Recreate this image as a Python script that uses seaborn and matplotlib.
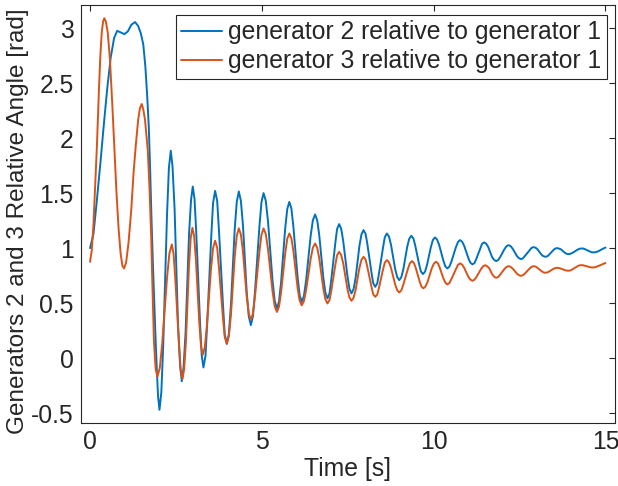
import matplotlib
matplotlib.use("Agg")
import matplotlib.pyplot as plt
import seaborn as sns

# ===== DATA =====
# generator 2 relative to generator 1
t_gen2 = [0.0, 0.1, 0.2, 0.3, 0.4, 0.5, 0.6, 0.7, 0.79, 0.9, 1.0, 1.1, 1.2, 1.31,
          1.4, 1.48, 1.55, 1.61, 1.66, 1.71, 1.75, 1.79, 1.83, 1.87, 1.91, 1.95, 1.98,
          2.02, 2.075, 2.13, 2.24, 2.295,
          2.35, 2.40, 2.46, 2.56, 2.62,
          2.67, 2.72, 2.78, 2.88, 2.94,
          2.99, 3.04, 3.09, 3.20, 3.25,
          3.30, 3.36, 3.41, 3.53, 3.58,
          3.64, 3.70, 3.75, 3.87, 3.92,
          3.98, 4.04, 4.10, 4.21, 4.27,
          4.33, 4.39, 4.45, 4.56, 4.62,
          4.68, 4.74, 4.80, 4.93, 4.99,
          5.05, 5.115, 5.18, 5.31, 5.375,
          5.44, 5.50, 5.56, 5.68, 5.74,
          5.80, 5.86, 5.92, 6.04, 6.10,
          6.16, 6.225, 6.29, 6.42, 6.485,
          6.55, 6.61, 6.67, 6.79, 6.85,
          6.91, 6.97, 7.02, 7.14, 7.19,
          7.25, 7.31, 7.37, 7.49, 7.55,
          7.61, 7.67, 7.73, 7.84, 7.90,
          7.96, 8.02, 8.07, 8.19, 8.24,
          8.30, 8.36, 8.41, 8.53, 8.58,
          8.64, 8.70, 8.76, 8.88, 8.94,
          9.00, 9.06, 9.12, 9.23, 9.29,
          9.35, 9.41, 9.46, 9.58, 9.63,
          9.69, 9.75, 9.81, 9.92, 9.98,
          10.04, 10.10, 10.16, 10.28, 10.34,
          10.40, 10.46, 10.52, 10.65, 10.71,
          10.77, 10.83, 10.89, 11.01, 11.07,
          11.13, 11.19, 11.24, 11.36, 11.41,
          11.47, 11.53, 11.59, 11.70, 11.76,
          11.82, 11.88, 11.94, 12.06, 12.12,
          12.18, 12.24, 12.30, 12.42, 12.48,
          12.54, 12.60, 12.66, 12.79, 12.85,
          12.91, 12.97, 13.02, 13.14, 13.19,
          13.25, 13.31, 13.36, 13.48, 13.53,
          13.59, 13.645, 13.70, 13.81, 13.865,
          13.92, 13.985, 14.05, 14.18, 14.245,
          14.31, 14.37, 14.42, 14.54, 14.59,
          14.65, 14.72, 14.80, 14.90, 15.0]
y_gen2 = [1.00, 1.13, 1.44, 1.77, 2.12, 2.45, 2.73, 2.91, 2.975, 2.96, 2.945, 2.97, 3.03, 3.055,
          3.02, 2.95, 2.85, 2.65, 2.4, 2.1, 1.7, 1.25, 0.85, 0.5, 0.15, -0.15, -0.35,
          -0.47, -0.31, 0.12, 1.30, 1.73,
          1.885, 1.745, 1.36, 0.31, -0.07,
          -0.21, -0.09, 0.23, 1.12, 1.44,
          1.56, 1.45, 1.15, 0.33, 0.025,
          -0.085, 0.02, 0.32, 1.12, 1.41,
          1.52, 1.43, 1.17, 0.48, 0.22,
          0.13, 0.22, 0.48, 1.17, 1.42,
          1.515, 1.43, 1.21, 0.60, 0.38,
          0.30, 0.38, 0.60, 1.20, 1.42,
          1.50, 1.43, 1.24, 0.71, 0.52,
          0.45, 0.515, 0.69, 1.18, 1.355,
          1.42, 1.36, 1.19, 0.74, 0.573,
          0.512, 0.565, 0.71, 1.11, 1.253,
          1.306, 1.255, 1.12, 0.73, 0.594,
          0.543, 0.588, 0.71, 1.05, 1.173,
          1.218, 1.176, 1.06, 0.75, 0.63,
          0.588, 0.627, 0.73, 1.02, 1.125,
          1.164, 1.129, 1.04, 0.78, 0.683,
          0.648, 0.68, 0.77, 1.01, 1.10,
          1.133, 1.105, 1.03, 0.81, 0.737,
          0.709, 0.736, 0.81, 1.01, 1.085,
          1.112, 1.089, 1.03, 0.85, 0.787,
          0.764, 0.786, 0.85, 1.01, 1.075,
          1.097, 1.078, 1.03, 0.89, 0.834,
          0.815, 0.832, 0.88, 1.01, 1.056,
          1.073, 1.058, 1.02, 0.91, 0.867,
          0.852, 0.865, 0.90, 1.00, 1.039,
          1.052, 1.041, 1.01, 0.92, 0.893,
          0.882, 0.892, 0.92, 0.99, 1.017,
          1.027, 1.018, 0.995, 0.93, 0.909,
          0.90, 0.907, 0.93, 0.98, 1.002,
          1.009, 1.003, 0.99, 0.94, 0.927,
          0.921, 0.926, 0.94, 0.98, 0.995,
          1.00, 0.996, 0.99, 0.96, 0.949,
          0.945, 0.949, 0.958, 0.984, 0.994,
          0.997, 0.995, 0.988, 0.97, 0.963,
          0.961, 0.963, 0.972, 0.99, 1.005]

# generator 3 relative to generator 1
t_gen3 = [0.0, 0.05, 0.1, 0.15, 0.2, 0.26, 0.3, 0.34, 0.38, 0.415, 0.46, 0.515, 0.58,
          0.65, 0.71, 0.77, 0.83, 0.89, 0.94, 0.99, 1.05, 1.12, 1.2, 1.27, 1.33, 1.40,
          1.45, 1.505, 1.55, 1.6, 1.68, 1.73, 1.78, 1.82, 1.86, 1.91,
          1.96, 2.03, 2.10, 2.24, 2.31,
          2.38, 2.43, 2.48, 2.59, 2.64,
          2.69, 2.74, 2.79, 2.88, 2.93,
          2.98, 3.03, 3.08, 3.18, 3.23,
          3.28, 3.34, 3.40, 3.52, 3.58,
          3.64, 3.70, 3.75, 3.87, 3.92,
          3.98, 4.04, 4.10, 4.21, 4.27,
          4.33, 4.39, 4.45, 4.56, 4.62,
          4.68, 4.74, 4.80, 4.93, 4.99,
          5.05, 5.115, 5.18, 5.31, 5.375,
          5.44, 5.50, 5.56, 5.68, 5.74,
          5.80, 5.86, 5.92, 6.04, 6.10,
          6.16, 6.225, 6.29, 6.42, 6.485,
          6.55, 6.61, 6.67, 6.79, 6.85,
          6.91, 6.97, 7.02, 7.14, 7.19,
          7.25, 7.31, 7.37, 7.49, 7.55,
          7.61, 7.67, 7.73, 7.84, 7.90,
          7.96, 8.02, 8.07, 8.19, 8.24,
          8.30, 8.36, 8.41, 8.53, 8.58,
          8.64, 8.70, 8.76, 8.88, 8.94,
          9.00, 9.06, 9.12, 9.25, 9.31,
          9.37, 9.425, 9.48, 9.59, 9.645,
          9.70, 9.76, 9.82, 9.95, 10.01,
          10.07, 10.125, 10.18, 10.29, 10.345,
          10.40, 10.46, 10.52, 10.65, 10.71,
          10.77, 10.83, 10.89, 11.01, 11.07,
          11.13, 11.19, 11.25, 11.38, 11.44,
          11.50, 11.55, 11.61, 11.71, 11.77,
          11.82, 11.88, 11.94, 12.06, 12.12,
          12.18, 12.24, 12.30, 12.42, 12.48,
          12.54, 12.60, 12.66, 12.79, 12.85,
          12.91, 12.97, 13.02, 13.14, 13.19,
          13.25, 13.31, 13.36, 13.48, 13.53,
          13.59, 13.645, 13.70, 13.81, 13.865,
          13.92, 13.98, 14.04, 14.17, 14.23,
          14.29, 14.35, 14.40, 14.52, 14.57,
          14.63, 14.70, 14.80, 14.90, 15.0]
y_gen3 = [0.875, 0.98, 1.22, 1.57, 1.93, 2.45, 2.75, 2.96, 3.06, 3.09, 3.06, 2.96, 2.71,
          2.29, 1.89, 1.5, 1.18, 0.95, 0.84, 0.815, 0.87, 1.05, 1.35, 1.7, 1.93, 2.165,
          2.27, 2.31, 2.26, 2.165, 1.89, 1.55, 1.1, 0.6, 0.15, -0.1,
          -0.17, -0.09, 0.13, 0.73, 0.953,
          1.034, 0.952, 0.73, 0.12, -0.108,
          -0.19, -0.098, 0.15, 0.84, 1.093,
          1.185, 1.108, 0.90, 0.32, 0.107,
          0.03, 0.099, 0.29, 0.81, 0.998,
          1.067, 1.004, 0.83, 0.36, 0.193,
          0.13, 0.20, 0.39, 0.92, 1.11,
          1.18, 1.124, 0.97, 0.56, 0.404,
          0.348, 0.404, 0.56, 0.97, 1.123,
          1.179, 1.128, 0.99, 0.61, 0.471,
          0.42, 0.468, 0.60, 0.95, 1.085,
          1.133, 1.089, 0.97, 0.64, 0.524,
          0.48, 0.518, 0.62, 0.90, 1.004,
          1.042, 1.005, 0.91, 0.63, 0.534,
          0.497, 0.528, 0.61, 0.85, 0.935,
          0.966, 0.936, 0.86, 0.63, 0.551,
          0.521, 0.548, 0.62, 0.82, 0.894,
          0.921, 0.897, 0.83, 0.65, 0.581,
          0.557, 0.579, 0.64, 0.81, 0.869,
          0.891, 0.871, 0.82, 0.67, 0.617,
          0.597, 0.616, 0.67, 0.81, 0.863,
          0.882, 0.865, 0.82, 0.70, 0.651,
          0.634, 0.65, 0.69, 0.82, 0.86,
          0.876, 0.862, 0.82, 0.72, 0.684,
          0.67, 0.683, 0.72, 0.81, 0.848,
          0.861, 0.85, 0.82, 0.74, 0.714,
          0.703, 0.713, 0.74, 0.81, 0.835,
          0.845, 0.837, 0.82, 0.76, 0.738,
          0.73, 0.737, 0.76, 0.81, 0.829,
          0.836, 0.83, 0.814, 0.77, 0.754,
          0.748, 0.754, 0.77, 0.814, 0.83,
          0.836, 0.832, 0.821, 0.791, 0.78,
          0.776, 0.779, 0.787, 0.81, 0.818,
          0.821, 0.819, 0.814, 0.801, 0.796,
          0.794, 0.797, 0.807, 0.832, 0.842,
          0.845, 0.844, 0.84, 0.829, 0.825,
          0.824, 0.826, 0.838, 0.852, 0.865]

LABELS = ["generator 2 relative to generator 1", "generator 3 relative to generator 1"]
COLORS = ["#0072BD", "#D95319"]
FS = 17.8

sns.set_theme(style="white")
plt.rcParams["font.family"] = ["Liberation Sans", "DejaVu Sans"]
plt.rcParams["font.size"] = FS

fig = plt.figure(figsize=(6.18, 4.86), dpi=100)
ax = fig.add_axes([0.1307, 0.1296, 0.8645, 0.8601])

sns.lineplot(x=t_gen2, y=y_gen2, ax=ax, color=COLORS[0], linewidth=1.4,
             label=LABELS[0], sort=False, errorbar=None)
sns.lineplot(x=t_gen3, y=y_gen3, ax=ax, color=COLORS[1], linewidth=1.4,
             label=LABELS[1], sort=False, errorbar=None)

ax.set_xlim(-0.27, 15.28)
ax.set_ylim(-0.59, 3.21)
ax.set_xticks([0, 5, 10, 15])
ax.set_yticks([-0.5, 0, 0.5, 1, 1.5, 2, 2.5, 3])
ax.set_yticklabels(["-0.5", "0", "0.5", "1", "1.5", "2", "2.5", "3"])

for side in ["top", "bottom", "left", "right"]:
    ax.spines[side].set_visible(True)
    ax.spines[side].set_color("#262626")
    ax.spines[side].set_linewidth(0.8)
ax.tick_params(direction="in", length=4, width=0.8, color="#262626",
               top=True, right=True, labelsize=FS, labelcolor="#262626", pad=5)

ax.set_xlabel("Time [s]", fontsize=FS, color="#262626", labelpad=2)
ax.set_ylabel("Generators 2 and 3 Relative Angle [rad]", fontsize=FS - 0.3,
              color="#262626")
# label sits a little below the axes centre in the reference
ax.yaxis.set_label_coords(-0.097, 0.483)

leg = ax.legend(loc="upper right", bbox_to_anchor=(0.9845, 0.976), fontsize=FS,
                frameon=True, fancybox=False, framealpha=1, edgecolor="#262626",
                handlelength=1.65, handletextpad=0.25, borderpad=0.22,
                labelspacing=0.2, borderaxespad=0)
leg.get_frame().set_linewidth(0.8)

fig.savefig("out.png", dpi=100)
